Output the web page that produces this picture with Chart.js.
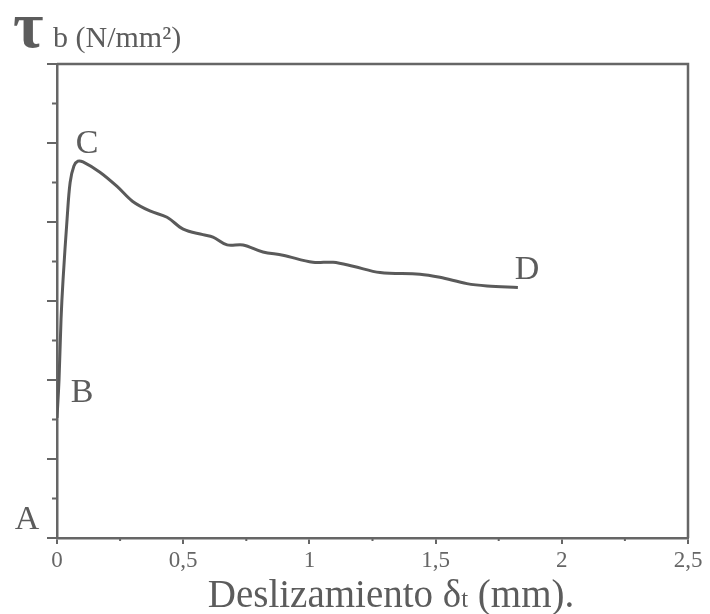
<!DOCTYPE html>
<html>
<head>
<meta charset="utf-8">
<script src="https://cdn.jsdelivr.net/npm/chart.js@4"></script>
<style>
	html, body { margin: 0; padding: 0; background: #fff; }
	#wrap { width: 710px; height: 614px; }
</style>
</head>
<body>
<div id="wrap"><canvas id="chart" width="710" height="614"></canvas></div>
<script>
// deslizamiento (mm) y tension de adherencia (escala arbitraria, sin valores)
const slipMm = [0, 0.008, 0.016, 0.024, 0.04, 0.052, 0.067, 0.083, 0.103, 0.17, 0.238, 0.30, 0.368, 0.436, 0.50, 0.578, 0.618, 0.674, 0.737, 0.816, 0.895, 1.014, 1.094, 1.173, 1.28, 1.438, 1.517, 1.624, 1.704, 1.826];
const stress = [1.52, 2.0, 2.77, 3.27, 4.04, 4.5, 4.71, 4.77, 4.76, 4.63, 4.45, 4.26, 4.14, 4.06, 3.91, 3.84, 3.81, 3.71, 3.71, 3.62, 3.58, 3.49, 3.49, 3.44, 3.36, 3.34, 3.30, 3.22, 3.19, 3.17];

const xTickValues = [0, 0.5, 1, 1.5, 2, 2.5];
const xMinorTicks = [0.25, 0.75, 1.25, 1.75, 2.25];
const yTickValues = [0, 1, 2, 3, 4, 5, 6];
const yMinorTicks = [0.5, 1.5, 2.5, 3.5, 4.5, 5.5];

const pointNames = ["A", "B", "C", "D"];
const pointNameX = [-0.119, 0.099, 0.119, 1.862];
const pointNameY = [0.228, 1.84, 4.99, 3.39];

const GRAY = "#5c5c5c";
const SERIF = "'Liberation Serif', 'DejaVu Serif', serif";

let XY = slipMm.map((x, i) => ({ x: x, y: stress[i] }));

const extras = {
	id: "extras",
	beforeDatasetsDraw(chart) {
		let c = chart.ctx, a = chart.chartArea;
		let xs = chart.scales.x, ys = chart.scales.y;
		c.save();
		c.strokeStyle = "#666";
		c.lineWidth = 2.5;
		c.beginPath();
		c.moveTo(a.left, a.top);
		c.lineTo(a.right, a.top);
		c.lineTo(a.right, a.bottom);
		c.stroke();
		c.lineWidth = 2;
		c.beginPath();
		yMinorTicks.forEach(v => {
			let p = ys.getPixelForValue(v);
			c.moveTo(a.left - 5, p);
			c.lineTo(a.left, p);
		});
		xMinorTicks.forEach(v => {
			let p = xs.getPixelForValue(v);
			c.moveTo(p, a.bottom);
			c.lineTo(p, a.bottom + 3);
		});
		c.stroke();
		c.restore();
	},
	afterDraw(chart) {
		let c = chart.ctx;
		let xs = chart.scales.x, ys = chart.scales.y;
		c.save();
		c.fillStyle = GRAY;
		c.textAlign = "center";
		c.textBaseline = "middle";
		c.font = "34px " + SERIF;
		pointNames.forEach((n, i) => {
			c.fillText(n, xs.getPixelForValue(pointNameX[i]), ys.getPixelForValue(pointNameY[i]));
		});

		// titulo eje y
		c.textAlign = "left";
		c.textBaseline = "alphabetic";
		c.font = "bold 66px " + SERIF;
		c.fillText("τ", 13, 47);
		c.font = "30px " + SERIF;
		c.fillText("b (N/mm²)", 53, 47);

		// titulo eje x
		let p1 = "Deslizamiento δ", p2 = "t", p3 = " (mm).";
		c.font = "39px " + SERIF;
		let w1 = c.measureText(p1).width, w3 = c.measureText(p3).width;
		c.font = "25px " + SERIF;
		let w2 = c.measureText(p2).width;
		let x0 = 391 - (w1 + w2 + w3) / 2;
		let base = 607;
		c.font = "39px " + SERIF;
		c.fillText(p1, x0, base);
		c.font = "25px " + SERIF;
		c.fillText(p2, x0 + w1, base);
		c.font = "39px " + SERIF;
		c.fillText(p3, x0 + w1 + w2, base);
		c.restore();
	}
};

let ctx = document.getElementById("chart");
const config = {
	type: "scatter",
	data: {
		datasets: [{
			data: XY,
			borderColor: "#5a5a5a",
			borderWidth: 3,
			pointRadius: 0,
			showLine: true,
			tension: 0.35
		}]
	},
	options: {
		responsive: false,
		animation: false,
		layout: { padding: { top: 64, right: 22, left: 0, bottom: 0 } },
		plugins: {
			legend: { display: false },
			tooltip: { enabled: false }
		},
		scales: {
			x: {
				type: "linear",
				min: 0,
				max: 2.5,
				afterBuildTicks: s => { s.ticks = xTickValues.map(v => ({ value: v })); },
				afterFit: s => { s.height = 76; },
				border: { display: true, color: "#666", width: 2.5 },
				grid: { drawOnChartArea: false, drawTicks: true, tickLength: 6, color: "#666", lineWidth: 2 },
				ticks: {
					color: "#666",
					padding: 3,
					maxRotation: 0,
					font: { family: SERIF, size: 23 },
					callback: v => String(v).replace(".", ",")
				}
			},
			y: {
				min: 0,
				max: 6,
				afterBuildTicks: s => { s.ticks = yTickValues.map(v => ({ value: v })); },
				afterFit: s => { s.width = 57; },
				border: { display: true, color: "#666", width: 2.5 },
				grid: { drawOnChartArea: false, drawTicks: true, tickLength: 10, color: "#666", lineWidth: 2 },
				ticks: { display: false }
			}
		}
	},
	plugins: [extras]
};
let chart = new Chart(ctx, config);
</script>
</body>
</html>
